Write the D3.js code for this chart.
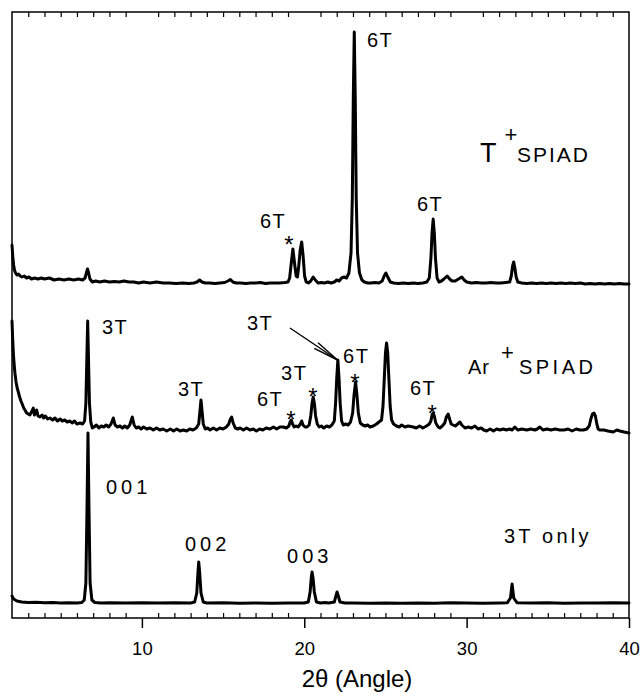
<!DOCTYPE html>
<html>
<head>
<meta charset="utf-8">
<script src="https://cdn.jsdelivr.net/npm/d3@7"></script>
<style>
  html, body { margin: 0; padding: 0; background: #fff; }
  svg { display: block; }
  text { font-family: "Liberation Sans", Arial, Helvetica, sans-serif; fill: #000; }
</style>
</head>
<body>
<div id="chart"></div>
<script>
// ---------------- DATA ----------------
const xMajorTicks = [10, 20, 30, 40];
const xMinorTicks = [3,4,5,6,7,8,9,11,12,13,14,15,16,17,18,19,21,22,23,24,25,26,27,28,29,31,32,33,34,35,36,37,38,39];
const xTitle = "2θ (Angle)";

// 3T only (bottom trace): [2θ, intensity (a.u.)]
const trace3Tonly = [[2.0,22],[2.1,19],[2.3,17],[2.6,16],[3.0,15.5],[3.5,15.8],[4.0,15.2],[4.5,15.5],[5.0,15],[5.5,15.2],[6.0,15],[6.3,15.5],[6.45,18],[6.55,35],[6.62,110],[6.68,185],[6.74,110],[6.81,35],[6.92,18],[7.1,15.5],[7.5,15],[8,15.3],[9,15],[10,15.2],[11,15],[12,15.2],[13,15],[13.25,16],[13.38,25],[13.45,45],[13.5,56],[13.56,45],[13.64,25],[13.78,16],[14,15],[15,15.2],[16,14.8],[17,15],[18,14.8],[19,15],[20,15],[20.25,16],[20.36,26],[20.43,40],[20.48,46],[20.54,40],[20.62,26],[20.75,16],[21,15],[21.3,15.5],[21.5,15],[21.85,16],[21.95,22],[22.02,26],[22.1,22],[22.2,16],[22.5,15],[23,15],[24,14.8],[25,15],[26,14.8],[27,15],[28,14.8],[29,15.2],[30,15],[31,14.8],[32,15],[32.5,15.2],[32.7,20],[32.8,34],[32.9,20],[33.1,15.3],[34,15],[35,15.2],[36,14.8],[37,15],[38,15],[39,15.2],[40,15]];

// Ar+ SPIAD (middle trace)
const traceArSPIAD = [[2.00,297],[2.04,280],[2.08,266],[2.13,254],[2.18,245],[2.25,236],[2.32,230],[2.39,226],[2.47,221],[2.55,217],[2.63,214],[2.72,210],[2.8,208],[2.9,205],[3.0,204],[3.1,203],[3.2,206],[3.31,210],[3.38,203],[3.45,206],[3.52,208],[3.6,202],[3.72,201],[3.85,203],[3.95,200],[4.05,202],[4.2,199],[4.34,200],[4.5,198],[4.65,200],[4.8,197],[4.96,199],[5.1,197],[5.25,198],[5.4,196],[5.57,197],[5.7,195],[5.85,197],[6.0,194],[6.19,195],[6.35,194],[6.47,197],[6.55,215],[6.61,260],[6.66,297],[6.71,260],[6.77,215],[6.85,196],[6.95,190],[7.05,191],[7.2,193],[7.35,190],[7.5,192],[7.65,191],[7.8,193],[7.95,191],[8.1,194],[8.24,200],[8.35,193],[8.5,191],[8.65,192],[8.8,190],[8.95,192],[9.1,190],[9.25,193],[9.41,201],[9.52,193],[9.65,190],[9.8,191],[9.95,189],[10.1,191],[10.3,189],[10.5,190],[10.7,188],[10.9,190],[11.1,188],[11.3,189],[11.53,187],[11.75,189],[11.95,187],[12.15,189],[12.35,187],[12.55,188],[12.76,187],[12.95,189],[13.15,188],[13.35,190],[13.5,194],[13.57,206],[13.64,218],[13.71,206],[13.78,194],[13.9,189],[14.05,190],[14.2,188],[14.4,190],[14.6,188],[14.8,190],[15.0,189],[15.2,191],[15.35,194],[15.45,199],[15.53,201],[15.62,195],[15.75,190],[15.9,189],[16.05,190],[16.25,188],[16.45,190],[16.65,188],[16.86,189],[17.05,187],[17.25,189],[17.45,188],[17.65,190],[17.89,189],[18.1,191],[18.3,189],[18.5,191],[18.7,191],[18.9,190],[19.05,192],[19.13,196],[19.2,198],[19.28,194],[19.38,191],[19.5,192],[19.62,191],[19.76,194],[19.84,197],[19.92,193],[20.05,191],[20.17,191],[20.3,193],[20.4,202],[20.48,215],[20.55,221],[20.62,215],[20.7,202],[20.8,194],[20.92,191],[21.05,192],[21.2,190],[21.38,192],[21.55,191],[21.7,193],[21.85,197],[21.93,215],[22.0,240],[22.07,258],[22.14,240],[22.21,215],[22.3,197],[22.4,193],[22.55,194],[22.7,193],[22.85,196],[22.98,205],[23.06,222],[23.16,236],[23.25,222],[23.33,205],[23.45,195],[23.6,193],[23.75,192],[23.9,193],[24.05,191],[24.25,192],[24.45,194],[24.6,196],[24.76,198],[24.85,212],[24.93,240],[25.0,265],[25.07,275],[25.14,265],[25.21,240],[25.29,212],[25.38,198],[25.5,194],[25.68,192],[25.85,191],[26.0,193],[26.2,191],[26.4,192],[26.71,191],[26.9,190],[27.1,192],[27.3,190],[27.53,192],[27.7,194],[27.8,197],[27.87,203],[27.94,205],[28.01,202],[28.1,195],[28.25,191],[28.35,190],[28.5,192],[28.65,195],[28.75,201],[28.86,204],[28.97,198],[29.05,194],[29.16,193],[29.3,192],[29.45,194],[29.59,196],[29.7,193],[29.9,190],[30.1,191],[30.3,190],[30.51,192],[30.7,189],[30.9,190],[31.05,188],[31.23,187],[31.45,189],[31.65,187],[31.85,189],[32.05,188],[32.25,189],[32.45,188],[32.65,189],[32.8,188],[32.97,191],[33.15,188],[33.4,189],[33.7,188],[33.95,189],[34.2,188],[34.35,189],[34.51,191],[34.7,188],[34.95,189],[35.2,188],[35.45,189],[35.74,188],[36.0,188],[36.25,189],[36.5,187],[36.75,189],[36.97,188],[37.2,188],[37.4,189],[37.55,192],[37.65,199],[37.75,204],[37.84,205],[37.93,202],[38.02,194],[38.1,189],[38.2,188],[38.45,188],[38.7,187],[39.03,186],[39.25,188],[39.44,187],[39.7,186],[40.0,185]];

// T+ SPIAD (top trace)
const traceTSPIAD = [[2.00,373],[2.03,366],[2.06,359],[2.1,353],[2.15,348],[2.22,345],[2.3,343],[2.4,344],[2.5,342],[2.62,341],[2.75,342],[2.9,340],[3.05,341],[3.2,339],[3.4,340],[3.6,339],[3.8,340],[4.0,339],[4.3,340],[4.6,338],[4.9,339],[5.2,338],[5.5,339],[5.8,338],[6.1,339],[6.35,338],[6.5,340],[6.58,345],[6.65,349],[6.72,345],[6.8,339],[6.95,336],[7.15,337],[7.4,336],[7.7,337],[8.0,336],[8.3,336.5],[8.6,336],[8.9,337],[9.2,336],[9.5,336],[9.8,335],[10.1,336],[10.5,335],[10.9,336],[11.3,335],[11.7,335],[12.1,334.5],[12.5,335],[12.9,334.5],[13.2,335],[13.4,336],[13.55,338],[13.7,336],[13.9,335],[14.2,335],[14.5,334.5],[14.8,335],[15.1,335.5],[15.3,337],[15.45,338.5],[15.6,336],[15.8,335],[16.1,335],[16.4,334.5],[16.7,335],[17.0,335],[17.3,335.5],[17.6,334.5],[17.9,335],[18.2,335],[18.5,335],[18.8,335.5],[19.0,336],[19.1,340],[19.2,355],[19.3,369],[19.4,355],[19.5,342],[19.58,341],[19.66,352],[19.75,368],[19.84,376],[19.93,362],[20.02,342],[20.12,336],[20.25,335],[20.4,337],[20.55,341],[20.68,338],[20.85,335],[21.05,335.5],[21.25,335],[21.45,336],[21.65,335],[21.85,336],[22.0,338],[22.15,337],[22.3,340],[22.45,341],[22.6,340],[22.75,345],[22.88,365],[22.96,420],[23.02,520],[23.08,586],[23.14,520],[23.2,420],[23.28,365],[23.4,345],[23.55,338],[23.7,336],[23.9,335],[24.1,335],[24.35,335.5],[24.6,335],[24.8,337],[24.92,342],[25.03,345],[25.14,341],[25.3,336],[25.5,335],[25.8,334.5],[26.1,335],[26.4,334.5],[26.7,335],[27.0,334.5],[27.3,335],[27.55,336],[27.7,340],[27.8,360],[27.87,385],[27.94,399],[28.01,385],[28.08,360],[28.18,340],[28.3,336],[28.45,337],[28.6,339],[28.8,342],[28.95,339],[29.1,337],[29.3,337],[29.5,339],[29.7,341],[29.85,338],[30.0,336],[30.3,335],[30.6,335.5],[30.9,335],[31.2,335],[31.5,335.5],[31.8,335],[32.1,335],[32.4,335.5],[32.65,336],[32.75,342],[32.83,352],[32.9,356],[32.97,350],[33.05,341],[33.15,336],[33.4,335],[33.7,334.5],[34.0,335],[34.3,334.5],[34.6,335],[34.9,334.5],[35.2,335],[35.5,334.5],[35.8,335],[36.1,334.5],[36.4,335],[36.7,334.5],[37.0,335],[37.3,334],[37.6,334.5],[37.9,334],[38.2,334.5],[38.5,334],[38.8,334.5],[39.1,334],[39.4,334.5],[39.7,334],[40.0,334]];

// Peak annotations: [text, 2θ of text start, intensity of baseline]
const peakLabels = [
  ["6T", 23.86, 571], ["6T", 17.27, 390], ["6T", 26.94, 407],
  ["3T", 7.54, 284], ["3T", 12.22, 222], ["3T", 16.47, 288], ["6T", 22.39, 255],
  ["3T", 18.57, 238], ["6T", 17.09, 212], ["6T", 26.51, 223]
];
// Asterisks: [2θ, intensity of centre]
const starMarks = [[19.06, 379], [19.18, 204], [20.54, 227], [23.12, 240.5], [27.87, 210]];
// Miller index labels
const hklLabels = [["001", 7.79, 124], ["002", 12.65, 67], ["003", 18.94, 55]];
// Arrow from the "3T" label to the 22.07° peak
const arrowFrom = [19.12, 290];
const arrowTo = [22.05, 258];
// Series names: [main, superscript, tail, 2θ start, intensity baseline]
const seriesNames = [
  ["T", "+", "SPIAD", 30.82, 456],
  ["Ar", "+", "SPIAD", 30.08, 244]
];
const soloName = ["3T only", 32.3, 75];

// ---------------- CHART ----------------
const W = 642, H = 697;
const svg = d3.select("#chart").append("svg").attr("width", W).attr("height", H);

const x = d3.scaleLinear().domain([2, 40]).range([12, 629]);
const y = d3.scaleLinear().domain([0, 606]).range([618, 12]);

const line = d3.line().x(d => x(d[0])).y(d => y(d[1]));

// frame
svg.append("rect").attr("x", x(2)).attr("y", y(606)).attr("width", x(40) - x(2)).attr("height", y(0) - y(606))
  .attr("fill", "none").attr("stroke", "#000").attr("stroke-width", 1.5);

// bottom major ticks (outward) + labels
const axMajor = svg.append("g").attr("transform", `translate(0,${y(0)})`)
  .call(d3.axisBottom(x).tickValues(xMajorTicks).tickSize(10).tickPadding(14).tickFormat(d3.format("d")));
axMajor.select(".domain").remove();
axMajor.selectAll("line").attr("stroke", "#000").attr("stroke-width", 1.5);
axMajor.selectAll("text").attr("font-size", 18.5).attr("font-family", '"Liberation Sans", Arial, sans-serif');

// bottom minor ticks (inward)
const axMinorB = svg.append("g").attr("transform", `translate(0,${y(0)})`)
  .call(d3.axisBottom(x).tickValues(xMinorTicks).tickSize(-5).tickFormat(""));
axMinorB.select(".domain").remove();
axMinorB.selectAll("line").attr("stroke", "#000").attr("stroke-width", 1.2);

// top minor ticks (inward)
const axMinorT = svg.append("g").attr("transform", `translate(0,${y(606)})`)
  .call(d3.axisTop(x).tickValues(xMinorTicks).tickSize(-5).tickFormat(""));
axMinorT.select(".domain").remove();
axMinorT.selectAll("line").attr("stroke", "#000").attr("stroke-width", 1.2);

// axis title
svg.append("text").attr("x", 357).attr("y", 687).attr("text-anchor", "middle")
  .attr("font-size", 24).text(xTitle);

// traces
[trace3Tonly, traceArSPIAD, traceTSPIAD].forEach(t => {
  svg.append("path").datum(t).attr("d", line)
    .attr("fill", "none").attr("stroke", "#000").attr("stroke-width", 3)
    .attr("stroke-linejoin", "round").attr("stroke-linecap", "round");
});

// peak labels
svg.selectAll("text.peak").data(peakLabels).enter().append("text").attr("class", "peak")
  .attr("x", d => x(d[1])).attr("y", d => y(d[2]))
  .attr("font-size", 20).attr("letter-spacing", 1.5).text(d => d[0]);

// asterisks
svg.selectAll("text.star").data(starMarks).enter().append("text").attr("class", "star")
  .attr("x", d => x(d[0])).attr("y", d => y(d[1])).attr("dy", "0.58em")
  .attr("text-anchor", "middle").attr("font-size", 24).text("*");

// hkl labels
svg.selectAll("text.hkl").data(hklLabels).enter().append("text").attr("class", "hkl")
  .attr("x", d => x(d[1])).attr("y", d => y(d[2]))
  .attr("font-size", 20).attr("letter-spacing", 4).text(d => d[0]);

// arrow
{
  const x0 = x(arrowFrom[0]), y0 = y(arrowFrom[1]), x1 = x(arrowTo[0]), y1 = y(arrowTo[1]);
  const ang = Math.atan2(y0 - y1, x0 - x1);
  const g = svg.append("g").attr("stroke", "#000").attr("stroke-width", 1.4).attr("fill", "none");
  g.append("line").attr("x1", x0).attr("y1", y0).attr("x2", x1).attr("y2", y1);
  [-0.13, 0.13].forEach(da => {
    g.append("line").attr("x1", x1).attr("y1", y1)
      .attr("x2", x1 + 26 * Math.cos(ang + da)).attr("y2", y1 + 26 * Math.sin(ang + da));
  });
}

// series names
seriesNames.forEach((s, i) => {
  const bx = x(s[3]), by = y(s[4]);
  const mainSize = i === 0 ? 27 : 20;
  const t = svg.append("text").attr("x", bx).attr("y", by).attr("font-size", mainSize)
    .attr("letter-spacing", i === 0 ? 0 : 1).text(s[0]);
  const mw = t.node().getComputedTextLength();
  const px = bx + mw + (i === 0 ? 8 : 11);
  svg.append("text").attr("x", px).attr("y", by - (i === 0 ? 20.5 : 14.5)).attr("font-size", 22).text(s[1]);
  svg.append("text").attr("x", bx + (i === 0 ? 37 : 51)).attr("y", by).attr("font-size", i === 0 ? 21 : 20)
    .attr("letter-spacing", i === 0 ? 2 : 3.5).text(s[2]);
});

svg.append("text").attr("x", x(soloName[1])).attr("y", y(soloName[2]))
  .attr("font-size", 20).attr("letter-spacing", 3.2).text(soloName[0]);
</script>
</body>
</html>
